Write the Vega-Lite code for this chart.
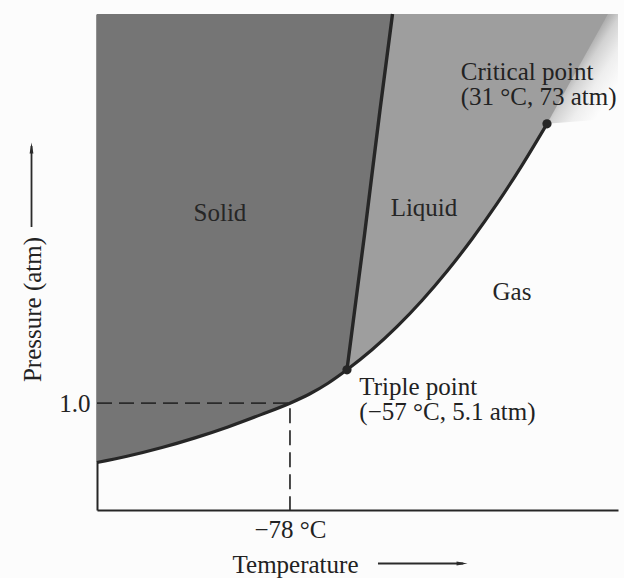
{
  "$schema": "https://vega.github.io/schema/vega-lite/v6.json",
  "width": 521,
  "height": 496,
  "autosize": "none",
  "padding": {"left": 97, "top": 14, "right": 6, "bottom": 68},
  "background": "#fcfcfc",
  "config": {"view": {"stroke": null}},
  "datasets": {
    "curve": [
      {"t": 0, "p": 9.58}, {"t": 5.76, "p": 10.84}, {"t": 12.48, "p": 12.6}, {"t": 18.81, "p": 14.54},
      {"t": 25.14, "p": 16.75}, {"t": 31.48, "p": 19.23}, {"t": 37.04, "p": 21.53}, {"t": 40.88, "p": 23.43},
      {"t": 44.34, "p": 25.56}, {"t": 47.98, "p": 28.27}, {"t": 52.78, "p": 32.3}, {"t": 57.58, "p": 36.96},
      {"t": 62.38, "p": 42.24}, {"t": 67.18, "p": 48.13}, {"t": 71.98, "p": 54.64}, {"t": 76.78, "p": 61.75},
      {"t": 81.57, "p": 69.5}, {"t": 86.37, "p": 77.86}
    ],
    "solidEdge": [
      {"t": 0, "p": 9.58}, {"t": 5.76, "p": 10.84}, {"t": 12.48, "p": 12.6}, {"t": 18.81, "p": 14.54},
      {"t": 25.14, "p": 16.75}, {"t": 31.48, "p": 19.23}, {"t": 37.04, "p": 21.53}, {"t": 40.88, "p": 23.43},
      {"t": 44.34, "p": 25.56}, {"t": 47.98, "p": 28.27}, {"t": 49.71, "p": 42.34}, {"t": 51.34, "p": 55.44},
      {"t": 52.88, "p": 68.55}, {"t": 54.32, "p": 80.65}, {"t": 56.72, "p": 100}
    ],
    "liquidEdge": [
      {"t": 47.98, "p": 28.27}, {"t": 52.78, "p": 32.3}, {"t": 57.58, "p": 36.96},
      {"t": 62.38, "p": 42.24}, {"t": 67.18, "p": 48.13}, {"t": 71.98, "p": 54.64}, {"t": 76.78, "p": 61.75},
      {"t": 81.57, "p": 69.5}, {"t": 86.37, "p": 77.86}, {"t": 98.08, "p": 100}
    ],
    "speckle": [
      {"t": 86.37, "p": 77.86}, {"t": 100, "p": 79}
    ],
    "melt": [
      {"t": 47.98, "p": 28.27}, {"t": 49.71, "p": 42.34}, {"t": 51.34, "p": 55.44},
      {"t": 52.88, "p": 68.55}, {"t": 54.32, "p": 80.65}, {"t": 56.72, "p": 100}
    ],
    "dash": [
      {"i": 0, "t": 0, "p": 21.53}, {"i": 1, "t": 37.04, "p": 21.53}, {"i": 2, "t": 37.04, "p": 0}
    ],
    "pts": [
      {"name": "Triple point", "t": 47.98, "p": 28.27},
      {"name": "Critical point", "t": 86.37, "p": 77.86}
    ],
    "labelsC": [
      {"label": "Solid", "t": 23.6, "p": 59.9},
      {"label": "Liquid", "t": 62.76, "p": 60.89},
      {"label": "Gas", "t": 79.65, "p": 44.01}
    ],
    "labelsL": [
      {"label": "Critical point", "t": 69.81, "p": 88.31},
      {"label": "(31 °C, 73 atm)", "t": 69.81, "p": 83.27},
      {"label": "Triple point", "t": 50.35, "p": 24.74},
      {"label": "(−57 °C, 5.1 atm)", "t": 50.35, "p": 19.7}
    ],
    "arrows": [
      {"a": "x", "i": 0, "t": 53.93, "p": -10.79}, {"a": "x", "i": 1, "t": 70.3, "p": -10.79},
      {"a": "y", "i": 0, "t": -12.57, "p": 57.06}, {"a": "y", "i": 1, "t": -12.57, "p": 73.4}
    ],
    "heads": [
      {"a": "x", "t": 70.06, "p": -10.79},
      {"a": "y", "t": -12.57, "p": 72.98}
    ]
  },
  "encoding": {
    "x": {
      "field": "t", "type": "quantitative",
      "scale": {"domain": [0, 100], "nice": false, "zero": false},
      "axis": {
        "values": [37.04], "labelExpr": "'−78 °C'", "ticks": false, "tickSize": 0, "grid": false,
        "domainColor": "#262626", "domainWidth": 2,
        "labelFont": "Liberation Serif", "labelFontSize": 25, "labelColor": "#222222",
        "labelBaseline": "middle", "labelPadding": 19,
        "title": "Temperature", "titleFont": "Liberation Serif", "titleFontSize": 25,
        "titleFontWeight": "normal", "titleColor": "#222222",
        "titleX": 198, "titleY": 54, "titleAlign": "center", "titleBaseline": "middle"
      }
    },
    "y": {
      "field": "p", "type": "quantitative",
      "scale": {"domain": [0, 100], "nice": false, "zero": false},
      "axis": {
        "values": [21.53], "labelExpr": "'1.0'", "ticks": false, "tickSize": 0, "grid": false,
        "domainColor": "#262626", "domainWidth": 2,
        "labelFont": "Liberation Serif", "labelFontSize": 25, "labelColor": "#222222",
        "labelBaseline": "middle", "labelPadding": 7,
        "title": "Pressure (atm)", "titleFont": "Liberation Serif", "titleFontSize": 25,
        "titleFontWeight": "normal", "titleColor": "#222222",
        "titleX": -65, "titleY": 295, "titleAngle": 270, "titleAlign": "center", "titleBaseline": "middle"
      }
    }
  },
  "layer": [
    {
      "data": {"name": "speckle"},
      "mark": {
        "type": "area", "clip": true,
        "color": {
          "gradient": "linear", "x1": 0, "y1": 0, "x2": 1, "y2": 1,
          "stops": [
            {"offset": 0, "color": "#a6a6a6"},
            {"offset": 0.44, "color": "#b0b0b0"},
            {"offset": 0.52, "color": "#d2d2d2"},
            {"offset": 0.66, "color": "#eeeeee"},
            {"offset": 0.82, "color": "#fcfcfc"}
          ]
        }
      },
      "encoding": {"y2": {"datum": 100}}
    },
    {
      "data": {"name": "liquidEdge"},
      "mark": {"type": "area", "color": "#9e9e9e"},
      "encoding": {"y2": {"datum": 100}}
    },
    {
      "data": {"name": "solidEdge"},
      "mark": {"type": "area", "color": "#757575"},
      "encoding": {"y2": {"datum": 100}}
    },
    {
      "data": {"name": "dash"},
      "mark": {"type": "line", "color": "#2b2b2b", "strokeWidth": 1.7, "strokeDash": [15, 7]},
      "encoding": {"order": {"field": "i"}}
    },
    {
      "data": {"name": "curve"},
      "mark": {"type": "line", "color": "#262626", "strokeWidth": 3.2, "interpolate": "monotone"},
      "encoding": {}
    },
    {
      "data": {"name": "melt"},
      "mark": {"type": "line", "color": "#262626", "strokeWidth": 3.4},
      "encoding": {}
    },
    {
      "data": {"name": "pts"},
      "mark": {"type": "point", "filled": true, "color": "#262626", "opacity": 1, "size": 85},
      "encoding": {}
    },
    {
      "data": {"name": "labelsC"},
      "mark": {"type": "text", "font": "Liberation Serif", "fontSize": 25, "color": "#262626", "align": "center", "baseline": "middle"},
      "encoding": {"text": {"field": "label"}}
    },
    {
      "data": {"name": "labelsL"},
      "mark": {"type": "text", "font": "Liberation Serif", "fontSize": 25, "color": "#222222", "align": "left", "baseline": "middle"},
      "encoding": {"text": {"field": "label"}}
    },
    {
      "data": {"name": "arrows"},
      "mark": {"type": "line", "color": "#2b2b2b", "strokeWidth": 1.8, "clip": false},
      "encoding": {"detail": {"field": "a"}, "order": {"field": "i"}}
    },
    {
      "data": {"name": "heads"},
      "mark": {"type": "point", "filled": true, "color": "#2b2b2b", "opacity": 1, "size": 120, "clip": false},
      "encoding": {
        "shape": {
          "field": "a", "type": "nominal", "legend": null,
          "scale": {"domain": ["x", "y"], "range": ["M-1,-0.35L1,0L-1,0.35Z", "M-0.35,1L0,-1L0.35,1Z"]}
        }
      }
    }
  ]
}
